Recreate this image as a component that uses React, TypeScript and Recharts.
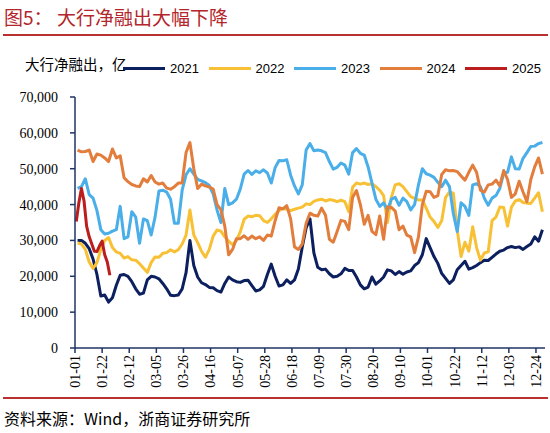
import { LineChart, Line, XAxis, YAxis, Legend } from 'recharts';

// sample days (day of year, 0 = 01-01), every 3 days
const DAYS = [
    2, 5, 8, 11, 14, 17, 20, 23, 26, 29, 32, 35, 38, 41, 44, 47, 50, 53, 56, 59,
    62, 65, 68, 71, 74, 77, 80, 83, 86, 89, 92, 95, 98, 101, 104, 107, 110, 113, 116, 119,
    122, 125, 128, 131, 134, 137, 140, 143, 146, 149, 152, 155, 158, 161, 164, 167, 170, 173, 176, 179,
    182, 185, 188, 191, 194, 197, 200, 203, 206, 209, 212, 215, 218, 221, 224, 227, 230, 233, 236, 239,
    242, 245, 248, 251, 254, 257, 260, 263, 266, 269, 272, 275, 278, 281, 284, 287, 290, 293, 296, 299,
    302, 305, 308, 311, 314, 317, 320, 323, 326, 329, 332, 335, 338, 341, 344, 347, 350, 353, 356, 359,
    362,
];

const Y2021 = [
    30000, 30000, 29200, 27700, 24800, 20500, 14500, 14800, 12800, 14000, 17500, 20300, 20500, 20000, 18500, 16500, 15000, 15300, 19000, 20000,
    19800, 19300, 18000, 16500, 14700, 14600, 14800, 16500, 21000, 30000, 23000, 19800, 18200, 17700, 16900, 16800, 16000, 15600, 18000, 19800,
    19000, 18500, 18300, 18800, 18900, 17400, 15900, 16200, 17200, 20500, 23400, 20000, 17300, 17600, 19000, 18000, 19000, 22000, 28200, 33500,
    36000, 26500, 22500, 21800, 22000, 20700, 19800, 20000, 20700, 22200, 21600, 21600, 19800, 17600, 16500, 17000, 19800, 17800, 18700, 19800,
    21800, 21500, 20500, 21300, 20600, 21200, 21500, 23000, 23800, 26000, 30500, 28000, 25500, 23600, 20800, 19400, 18000, 19000, 21800, 23000,
    24200, 22000, 22400, 23000, 23800, 24500, 24400, 25300, 26200, 27000, 27300, 28000, 28300, 28000, 28200, 27500, 28300, 29000, 31000, 29800,
    33000,
];

const Y2022 = [
    29300, 29000, 27500, 24000, 22200, 23800, 27500, 30000, 30800, 28000, 26800, 26400, 25100, 25500, 24600, 24500, 23500, 22300, 21100, 23800,
    25400, 25300, 26400, 26600, 27400, 26800, 27400, 29000, 31500, 38500, 31500, 29400, 27000, 25300, 27500, 31200, 32900, 32600, 31000, 29800,
    28800, 30000, 32400, 35900, 36800, 36600, 37000, 36900, 35500, 35000, 36000, 37300, 38300, 38900, 38700, 38300, 38700, 39000, 39300, 40200,
    40000, 40900, 41300, 41500, 41000, 41400, 41200, 40800, 41200, 40800, 38000, 44800, 46000, 45700, 46000, 45600, 45800, 45000, 44000, 42500,
    35000, 42000, 45500, 45800, 45000, 43600, 42200, 41700, 41300, 41300, 39000, 36500, 35300, 33600, 35500, 42000, 43500, 43200, 33000, 25500,
    29500, 27000, 33800, 28000, 24500, 26500, 26800, 35500, 36500, 39300, 39200, 34000, 39300, 41000, 41400, 40600, 40400, 40300, 41800, 43300,
    38000,
];

const Y2023 = [
    44500, 45000, 47200, 42800, 41800, 38300, 33000, 31800, 32000, 32600, 33000, 39500, 30500, 31000, 38000, 36500, 29200, 36000, 35500, 31500,
    36500, 43800, 44000, 43500, 41500, 34800, 34800, 44000, 48300, 50000, 48500, 47000, 46600, 46100, 45300, 43000, 38500, 35000, 44500, 40000,
    40500, 41500, 44300, 48500, 49500, 48400, 49400, 48900, 49700, 48800, 46000, 50300, 52300, 52200, 52500, 48200, 45200, 43000, 45500, 55200,
    57000, 55000, 55200, 55000, 54500, 52000, 49900, 50400, 51600, 51000, 48500, 54500, 55600, 54300, 53800, 50500, 46000, 41500, 39500, 40500,
    38500, 41500, 42000, 39800, 41800, 40800, 38500, 40000, 45500, 50000, 48600, 48200, 47600, 46200, 45000, 46800, 45000, 37500, 32500, 40500,
    39500, 37000, 45500, 45800, 45000, 41800, 39800, 41800, 42500, 44500, 48800, 49000, 53300, 50000, 49900, 52900, 54500, 56200, 56300, 57000,
    57300,
];

const Y2024 = [
    55200, 54700, 54800, 55200, 52000, 54100, 53800, 53000, 52000, 55500, 53000, 53600, 47500, 46400, 45600, 45200, 45000, 47200, 46300, 48100,
    46300, 45700, 46000, 44600, 44300, 45000, 46000, 46000, 54500, 57300, 50000, 44500, 45700, 45200, 44900, 44300, 40000, 38600, 34000, 26000,
    27500, 30500, 30500, 31300, 30300, 31200, 30500, 31000, 30000, 31500, 31200, 35500, 39100, 38800, 39700, 36000, 28200, 27500, 29000, 34800,
    37600, 37000, 36800, 39000, 37000, 30300, 29500, 32500, 35600, 35300, 33000, 42000, 43900, 40000, 34500, 37000, 32500, 31600, 36800, 30300,
    39300, 39200, 38200, 33000, 34000, 31500, 31000, 26600, 31000, 40000, 43700, 43600, 42000, 42500, 48400, 49700, 49400, 49500, 49200, 48000,
    46800, 49000, 51000, 49000, 44000, 43500, 45500, 45700, 46800, 45200, 49500, 47000, 42000, 43000, 46500, 43500, 40800, 47000, 50500, 53000,
    48500,
];

// 2025 only covers January
const DAYS_2025 = [1, 3, 5, 7, 9, 11, 13, 15, 17, 19, 21, 23, 25, 27];
const Y2025 = [35300, 40500, 44500, 41000, 34000, 31000, 29000, 27000, 26900, 28500, 29800, 26000, 24000, 20300];

const TICK_DAYS = [0, 21, 42, 63, 84, 105, 126, 147, 168, 189, 210, 231, 252, 273, 294, 315, 336, 357];
const TICK_LABELS = [
    '01-01', '01-22', '02-12', '03-05', '03-26', '04-16', '05-07', '05-28', '06-18',
    '07-09', '07-30', '08-20', '09-10', '10-01', '10-22', '11-12', '12-03', '12-24',
];
const Y_TICKS = [0, 10000, 20000, 30000, 40000, 50000, 60000, 70000];

const SERIES = [
    { key: 'y2021', name: '2021', color: '#0c1f5e' },
    { key: 'y2022', name: '2022', color: '#f8c135' },
    { key: 'y2023', name: '2023', color: '#4aaee9' },
    { key: 'y2024', name: '2024', color: '#e27d3c' },
    { key: 'y2025', name: '2025', color: '#bb1f1d' },
];

const rows = DAYS.map((day, i) => ({
    day,
    y2021: Y2021[i],
    y2022: Y2022[i],
    y2023: Y2023[i],
    y2024: Y2024[i],
}));
const rows2025 = DAYS_2025.map((day, i) => ({ day, y2025: Y2025[i] }));

const AXIS = '#1f3566';
const CJK = '"Noto Sans CJK SC", sans-serif';
const SERIF = '"Liberation Serif", "Times New Roman", serif';

const DateTick = ({ x, y, payload }: any) => {
    const idx = TICK_DAYS.indexOf(payload.value);
    return (
        <text
            x={x}
            y={y}
            transform={`rotate(-90, ${x}, ${y})`}
            textAnchor="end"
            dy="0.35em"
            fontSize={14}
            fontFamily={SERIF}
            fill="#000"
        >
            {TICK_LABELS[idx]}
        </text>
    );
};

const LegendRow = () => (
    <div style={{ display: 'flex', height: 16, alignItems: 'center' }}>
        {SERIES.map((s) => (
            <div key={s.key} style={{ display: 'flex', alignItems: 'center', width: 85.5 }}>
                <div style={{ width: 42, height: 3, background: s.color }} />
                <span
                    style={{
                        marginLeft: 5,
                        fontSize: 13,
                        fontFamily: '"Liberation Sans", Arial, sans-serif',
                        color: '#000',
                    }}
                >
                    {s.name}
                </span>
            </div>
        ))}
    </div>
);

export default function App() {
    return (
        <div
            style={{
                position: 'absolute',
                left: 0,
                top: 0,
                width: 550,
                height: 433,
                background: '#fff',
                overflow: 'hidden',
            }}
        >
            <div
                style={{
                    position: 'absolute',
                    left: 4,
                    top: 5,
                    fontSize: 19,
                    lineHeight: '24px',
                    fontFamily: CJK,
                    color: '#b3262b',
                    whiteSpace: 'nowrap',
                }}
            >
                图5：
            </div>
            <div
                style={{
                    position: 'absolute',
                    left: 57,
                    top: 5,
                    fontSize: 19,
                    lineHeight: '24px',
                    fontFamily: CJK,
                    color: '#b3262b',
                    whiteSpace: 'nowrap',
                }}
            >
                大行净融出大幅下降
            </div>
            <div style={{ position: 'absolute', left: 3, top: 34, width: 545, height: 2, background: '#b8312f' }} />

            <div
                style={{
                    position: 'absolute',
                    left: 25,
                    top: 55,
                    fontSize: 14.5,
                    lineHeight: '18px',
                    fontFamily: CJK,
                    color: '#000',
                    whiteSpace: 'nowrap',
                }}
            >
                大行净融出，亿
            </div>

            <div style={{ position: 'absolute', left: 0, top: 0 }}>
                <LineChart
                    width={550}
                    height={433}
                    data={rows}
                    margin={{ top: 81, right: 5, bottom: 35, left: 15 }}
                >
                    <XAxis
                        dataKey="day"
                        type="number"
                        domain={[0, 364]}
                        ticks={TICK_DAYS}
                        interval={0}
                        height={50}
                        stroke={AXIS}
                        strokeWidth={1.5}
                        tickSize={5}
                        tickMargin={2}
                        tick={<DateTick />}
                        allowDataOverflow
                    />
                    <YAxis
                        type="number"
                        domain={[0, 70000]}
                        ticks={Y_TICKS}
                        interval={0}
                        width={60}
                        stroke={AXIS}
                        strokeWidth={1.5}
                        tickSize={5}
                        tickMargin={12}
                        tickFormatter={(v: number) => v.toLocaleString('en-US')}
                        tick={{ fontSize: 14, fontFamily: SERIF, fill: '#000' }}
                    />
                    <Legend
                        verticalAlign="top"
                        content={<LegendRow />}
                        wrapperStyle={{ position: 'absolute', top: 60, left: 123, width: 430, height: 16 }}
                    />
                    {SERIES.slice(0, 4).map((s) => (
                        <Line
                            key={s.key}
                            dataKey={s.key}
                            name={s.name}
                            stroke={s.color}
                            strokeWidth={3}
                            dot={false}
                            isAnimationActive={false}
                            strokeLinejoin="round"
                        />
                    ))}
                    <Line
                        data={rows2025}
                        dataKey="y2025"
                        name="2025"
                        stroke={SERIES[4].color}
                        strokeWidth={3}
                        dot={false}
                        isAnimationActive={false}
                        strokeLinejoin="round"
                    />
                </LineChart>
            </div>

            <div style={{ position: 'absolute', left: 3, top: 397, width: 545, height: 2, background: '#b8312f' }} />
            <div
                style={{
                    position: 'absolute',
                    left: 4,
                    top: 407,
                    fontSize: 16,
                    lineHeight: '22px',
                    fontFamily: CJK,
                    color: '#000',
                    whiteSpace: 'nowrap',
                }}
            >
                资料来源：Wind，浙商证券研究所
            </div>
        </div>
    );
}
